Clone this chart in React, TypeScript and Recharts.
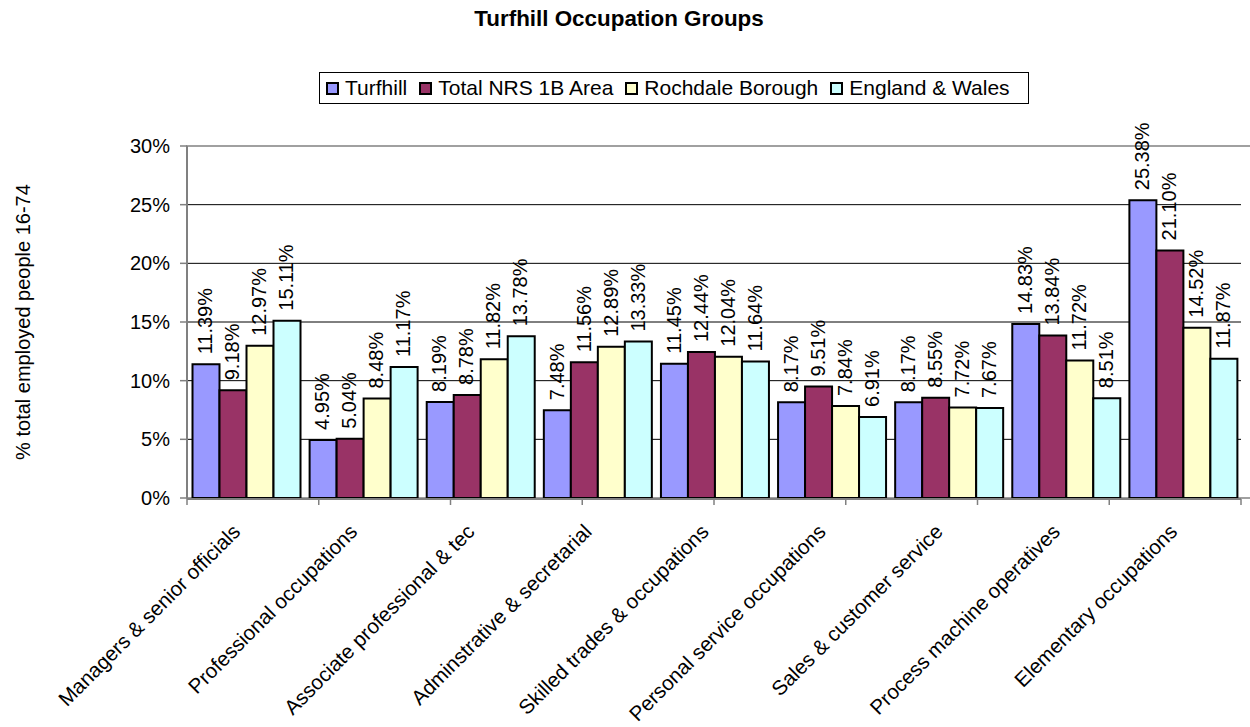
import React from "react";
import {
  BarChart, Bar, XAxis, YAxis, CartesianGrid, LabelList, ReferenceArea,
} from "recharts";

const categories = [
  "Managers & senior officials",
  "Professional occupations",
  "Associate professional & tec",
  "Adminstrative & secretarial",
  "Skilled trades & occupations",
  "Personal service occupations",
  "Sales & customer service",
  "Process machine operatives",
  "Elementary occupations",
];

const turfhill = [11.39, 4.95, 8.19, 7.48, 11.45, 8.17, 8.17, 14.83, 25.38];
const nrs1b = [9.18, 5.04, 8.78, 11.56, 12.44, 9.51, 8.55, 13.84, 21.1];
const rochdale = [12.97, 8.48, 11.82, 12.89, 12.04, 7.84, 7.72, 11.72, 14.52];
const englandWales = [15.11, 11.17, 13.78, 13.33, 11.64, 6.91, 7.67, 8.51, 11.87];

const yTicks = [0, 5, 10, 15, 20, 25, 30];
const boundaryTicks = [0, 1, 2, 3, 4, 5, 6, 7, 8, 9];

const series = [
  { key: "turfhill", name: "Turfhill", color: "#9999FF" },
  { key: "nrs1b", name: "Total NRS 1B Area", color: "#993366" },
  { key: "rochdale", name: "Rochdale Borough", color: "#FFFFCC" },
  { key: "englandWales", name: "England & Wales", color: "#CCFFFF" },
];

const data = categories.map((name, i) => ({
  name,
  turfhill: turfhill[i],
  nrs1b: nrs1b[i],
  rochdale: rochdale[i],
  englandWales: englandWales[i],
}));

const FONT = "'Liberation Sans', Arial, sans-serif";

function CategoryTick({ x, y, payload }: any) {
  const tx = x - 4;
  const ty = y + 35;
  return (
    <text
      x={tx}
      y={ty}
      transform={`rotate(-45, ${tx}, ${ty})`}
      textAnchor="end"
      fontSize={20.6}
      fontFamily={FONT}
      fill="#000"
    >
      {payload.value}
    </text>
  );
}

function ValueLabel(props: any) {
  const { x, y, width, value } = props;
  const cx = x + width / 2 - 1;
  const ty = y - 10;
  return (
    <text
      x={cx}
      y={ty}
      dy="0.36em"
      transform={`rotate(-90, ${cx}, ${ty})`}
      textAnchor="start"
      fontSize={20}
      fontFamily={FONT}
      fill="#000"
    >
      {Number(value).toFixed(2)}%
    </text>
  );
}

function LegendBox() {
  return (
    <div
      style={{
        position: "absolute", left: 319, top: 72, width: 702, height: 30,
        border: "1px solid #000", display: "flex", alignItems: "center",
        paddingLeft: 6, gap: 12, fontFamily: FONT, fontSize: 21, background: "#fff",
        boxSizing: "content-box",
      }}
    >
      {series.map((s) => (
        <div key={s.key} style={{ display: "flex", alignItems: "center", gap: 6 }}>
          <span style={{ width: 9, height: 9, background: s.color, border: "2px solid #000", display: "inline-block" }} />
          <span style={{ lineHeight: "30px", whiteSpace: "nowrap" }}>{s.name}</span>
        </div>
      ))}
    </div>
  );
}

export default function App() {
  return (
    <div style={{ position: "absolute", left: 0, top: 0, width: 1250, height: 727, background: "#fff", fontFamily: FONT }}>
      <div
        style={{
          position: "absolute", left: 0, width: 1238, top: 6, textAlign: "center",
          fontWeight: "bold", fontSize: 22.4, fontFamily: FONT,
        }}
      >
        Turfhill Occupation Groups
      </div>
      <LegendBox />
      <BarChart
        width={1250}
        height={727}
        data={data}
        margin={{ top: 146, right: 9, left: 0, bottom: 227 }}
        barCategoryGap="4.7%"
        barGap={0}
      >
        <CartesianGrid vertical={false} stroke="#000" strokeWidth={1} />
        <ReferenceArea
          xAxisId="bounds"
          x1={0}
          x2={9}
          y1={0}
          y2={30}
          fill="none"
          stroke="#a0a0a0"
          strokeWidth={2}
          ifOverflow="visible"
        />
        <XAxis
          xAxisId="bounds"
          type="number"
          domain={[0, 9]}
          ticks={boundaryTicks}
          height={1}
          tickSize={6}
          tickFormatter={() => ""}
          tickLine={{ stroke: "#808080", strokeWidth: 1.5 }}
          axisLine={{ stroke: "#808080", strokeWidth: 2 }}
        />
        <XAxis
          dataKey="name"
          interval={0}
          height={1}
          tickLine={false}
          axisLine={false}
          tickSize={0}
          tickMargin={0}
          tick={<CategoryTick />}
        />
        <YAxis
          domain={[0, 30]}
          ticks={yTicks}
          width={187}
          tickSize={7}
          tickMargin={10}
          tickFormatter={(v: number) => `${v}%`}
          tick={{ fontSize: 20, fill: "#000", fontFamily: FONT }}
          tickLine={{ stroke: "#808080", strokeWidth: 1.5 }}
          axisLine={{ stroke: "#808080", strokeWidth: 2 }}
          label={{
            value: "% total employed people 16-74",
            angle: -90,
            position: "insideLeft",
            dx: 18,
            fontSize: 20,
            fill: "#000",
            fontFamily: FONT,
            style: { textAnchor: "middle" },
          }}
        />
        {series.map((s) => (
          <Bar
            key={s.key}
            dataKey={s.key}
            name={s.name}
            fill={s.color}
            stroke="#000"
            strokeWidth={2}
            isAnimationActive={false}
          >
            <LabelList dataKey={s.key} content={<ValueLabel />} />
          </Bar>
        ))}
      </BarChart>
    </div>
  );
}
